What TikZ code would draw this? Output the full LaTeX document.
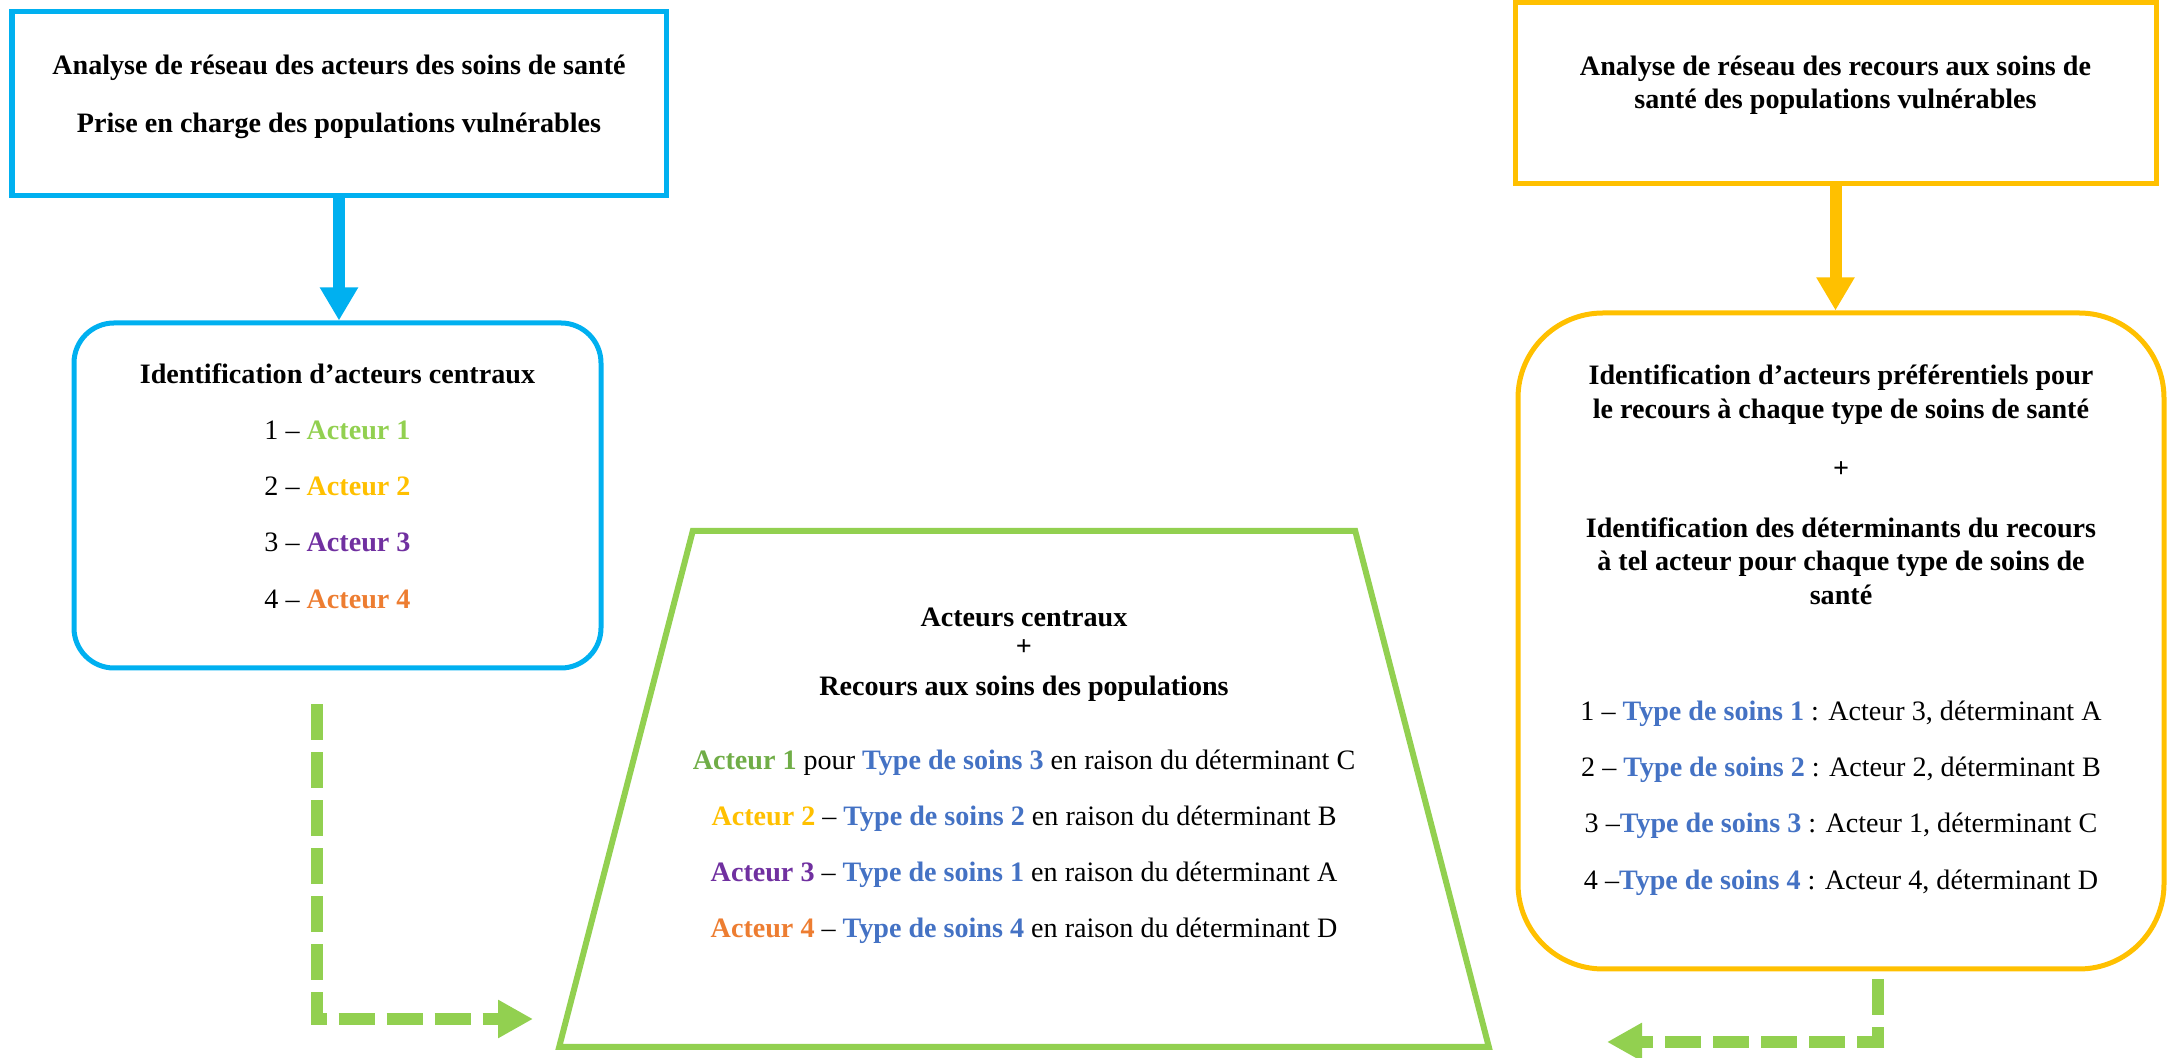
\documentclass[tikz,border=0pt]{standalone}
\usepackage{fontspec}
\setmainfont{Liberation Serif}
\definecolor{bleuacc}{HTML}{00B0F0}
\definecolor{jauneacc}{HTML}{FFC000}
\definecolor{vertacc}{HTML}{92D050}
\definecolor{vertfonce}{HTML}{70AD47}
\definecolor{violetacc}{HTML}{7030A0}
\definecolor{orangeacc}{HTML}{ED7D31}
\definecolor{bleutype}{HTML}{4472C4}
\usetikzlibrary{arrows.meta,positioning,shapes.geometric}
\newcommand{\acteur}[2]{\textcolor{#1}{\textbf{Acteur #2}}}
\newcommand{\typesoins}[1]{\textcolor{bleutype}{\textbf{Type de soins #1}}}

\begin{document}
\begin{tikzpicture}[
  font=\fontsize{16}{19}\selectfont,
  boite/.style={draw=#1,line width=0.1cm,align=center,inner sep=0pt},
  arrondi/.style={draw=#1,line width=0.1cm,align=center,inner sep=0pt},
  trapeze/.style={trapezium,trapezium angle=69.7,trapezium stretches=true,
    draw=vertacc,line width=0.12cm,align=center,inner sep=0pt},
  fleche/.style={-{Triangle[length=0.66cm,width=0.72cm]},line width=0.24cm,#1},
  pointille/.style={-{Triangle[length=0.7cm,width=0.72cm]},line width=0.24cm,
    vertacc,dash pattern=on 0.72cm off 0.24cm}]
  \useasboundingbox (0,0) rectangle (43.4,21.16);
  % acteurs (gauche)
  \node[boite=bleuacc,minimum width=13.08cm,minimum height=3.68cm] (analyse)
    at (6.78,19.08) {\textbf{Analyse de réseau des acteurs des soins de santé}\\[14pt]
    \textbf{Prise en charge des populations vulnérables}\\[-7pt]\mbox{}};
  \node[arrondi=bleuacc,rounded corners=0.8cm,minimum width=10.54cm,
    minimum height=6.9cm] (centraux) at (6.75,11.25)
    {\textbf{Identification d’acteurs centraux}\\[13pt]
    1 – \acteur{vertacc}{1}\\[13pt]
    2 – \acteur{jauneacc}{2}\\[13pt]
    3 – \acteur{violetacc}{3}\\[13pt]
    4 – \acteur{orangeacc}{4}\\[-8pt]\mbox{}};
  % recours (droite)
  \node[boite=jauneacc,minimum width=12.82cm,minimum height=3.62cm] (recours)
    at (36.71,19.29) {\textbf{Analyse de réseau des recours aux soins de}\\
    \textbf{santé des populations vulnérables}\\[-6pt]\mbox{}};
  \node[arrondi=jauneacc,rounded corners=1.7cm,minimum width=12.92cm,
    minimum height=13.12cm] (preferentiels) at (36.82,8.34)
    {\textbf{Identification d’acteurs préférentiels pour}\\
    \textbf{le recours à chaque type de soins de santé}\\[15pt]
    \textbf{+}\\[15pt]
    \textbf{Identification des déterminants du recours}\\
    \textbf{à tel acteur pour chaque type de soins de}\\
    \textbf{santé}\\[47pt]
    1 – \typesoins{1} : Acteur 3, déterminant A\\[13pt]
    2 – \typesoins{2} : Acteur 2, déterminant B\\[13pt]
    3 –\typesoins{3} : Acteur 1, déterminant C\\[13pt]
    4 –\typesoins{4} : Acteur 4, déterminant D\\[-3pt]\mbox{}};
  % synthese
  \node[trapeze,minimum width=18.5cm,minimum height=10.32cm] (synthese)
    at (20.48,5.38) {\textbf{Acteurs centraux}\\[-3pt]
    \textbf{+}\\[4pt]
    \textbf{Recours aux soins des populations}\\[23pt]
    \acteur{vertfonce}{1} pour \typesoins{3} en raison du déterminant C\\[13pt]
    \acteur{jauneacc}{2} – \typesoins{2} en raison du déterminant B\\[13pt]
    \acteur{violetacc}{3} – \typesoins{1} en raison du déterminant A\\[13pt]
    \acteur{orangeacc}{4} – \typesoins{4} en raison du déterminant D\\[-1pt]\mbox{}};
  \coordinate (versgauche) at (10.66,0.78);
  \coordinate (versdroite) at (32.14,0.32);
  \draw[fleche=bleuacc] (analyse.south) -- (analyse.south |- centraux.north);
  \draw[fleche=jauneacc] (recours.south) -- (recours.south |- preferentiels.north);
  \draw[pointille] ([xshift=-0.41cm,yshift=-0.68cm]centraux.south) |- (versgauche);
  \draw[pointille] ([xshift=0.74cm,yshift=-0.16cm]preferentiels.south) |- (versdroite);
\end{tikzpicture}
\end{document}
